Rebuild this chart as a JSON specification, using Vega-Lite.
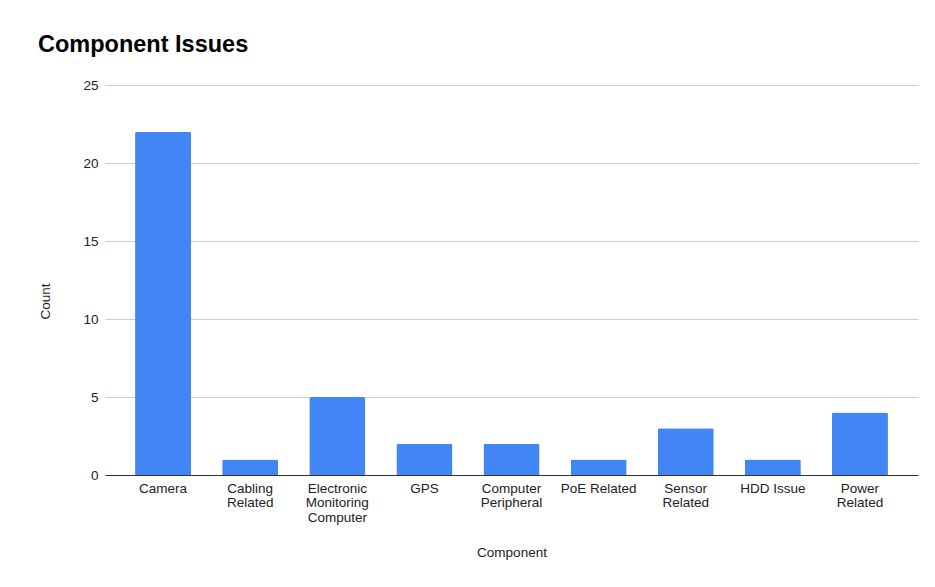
{
  "$schema": "https://vega.github.io/schema/vega-lite/v6.json",
  "autosize": {"type": "none"},
  "width": 813,
  "height": 390,
  "padding": {"left": 105, "top": 85, "right": 17, "bottom": 112},
  "background": "white",
  "title": {
    "text": "Component Issues",
    "anchor": "start",
    "frame": "group",
    "dx": -67,
    "offset": 22,
    "font": "Liberation Sans",
    "fontSize": 23.5,
    "fontWeight": "bold",
    "color": "#000000"
  },
  "data": {
    "values": [
      {"Component": "Camera", "Count": 22},
      {"Component": "Cabling Related", "Count": 1},
      {"Component": "Electronic Monitoring Computer", "Count": 5},
      {"Component": "GPS", "Count": 2},
      {"Component": "Computer Peripheral", "Count": 2},
      {"Component": "PoE Related", "Count": 1},
      {"Component": "Sensor Related", "Count": 3},
      {"Component": "HDD Issue", "Count": 1},
      {"Component": "Power Related", "Count": 4}
    ]
  },
  "mark": {"type": "bar", "color": "#4285F4", "cornerRadiusTopLeft": 2, "cornerRadiusTopRight": 2},
  "encoding": {
    "x": {
      "field": "Component",
      "type": "nominal",
      "sort": null,
      "scale": {"paddingInner": 0.357, "paddingOuter": 0.345},
      "axis": {
        "title": "Component",
        "labelAngle": 0,
        "labelExpr": "datum.label == 'PoE Related' || datum.label == 'HDD Issue' ? datum.label : split(datum.label, ' ')",
        "labelFont": "Liberation Sans",
        "labelFontSize": 13.5,
        "labelColor": "#222222",
        "labelLineHeight": 14.5,
        "labelPadding": 6,
        "labelBaseline": "top",
        "ticks": false,
        "domainColor": "#333333",
        "domainWidth": 1,
        "titleFont": "Liberation Sans",
        "titleFontSize": 13.5,
        "titleFontWeight": "normal",
        "titleColor": "#222222",
        "titlePadding": 22
      }
    },
    "y": {
      "field": "Count",
      "type": "quantitative",
      "scale": {"domain": [0, 25], "nice": false},
      "axis": {
        "title": "Count",
        "titleY": 216,
        "values": [0, 5, 10, 15, 20, 25],
        "labelFont": "Liberation Sans",
        "labelFontSize": 13.5,
        "labelColor": "#222222",
        "labelPadding": 7,
        "ticks": false,
        "domain": false,
        "gridColor": "#cccccc",
        "titleFont": "Liberation Sans",
        "titleFontSize": 13.5,
        "titleFontWeight": "normal",
        "titleColor": "#222222",
        "titlePadding": 30
      }
    }
  },
  "config": {"view": {"stroke": null}}
}
